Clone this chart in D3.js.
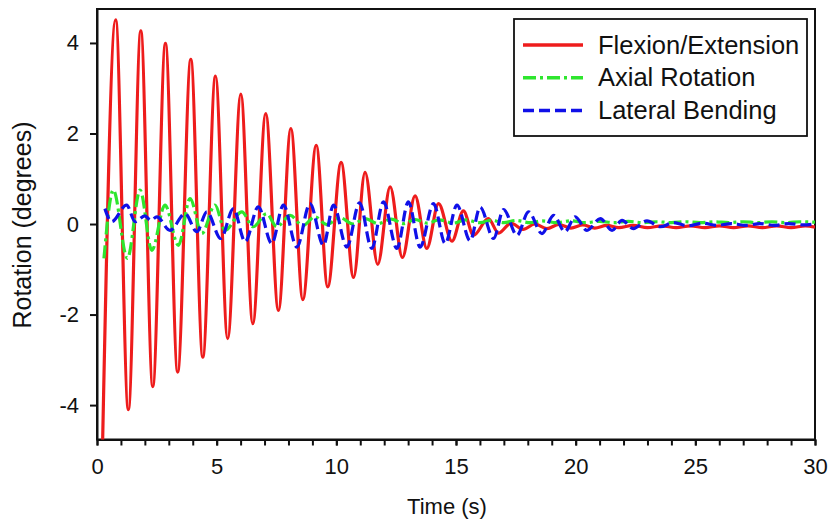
<!doctype html>
<html>
  <head>
    <meta charset="utf-8">
    <script src="https://cdn.jsdelivr.net/npm/d3@7/dist/d3.min.js"></script>
    <style>
      body { margin: 0; background: #fff; }
      text { font-family: "Liberation Sans", Arial, sans-serif; fill: #111; }
      .axis path, .axis line { stroke: #111; stroke-width: 2; }
      path.series { fill: none; stroke-width: 3.2; }
    </style>
  </head>
  <body>
    <svg width="828" height="522"></svg>
    <script>
      // extrema: [time (s), rotation (deg)]
      var flexion = [
        [0.22, -5.2], [0.78, 4.51], [1.31, -4.10], [1.83, 4.27], [2.33, -3.59], [2.86, 3.99],
        [3.37, -3.27], [3.92, 3.64], [4.42, -2.94], [4.95, 3.27], [5.46, -2.53], [6.01, 2.87],
        [6.51, -2.20], [7.05, 2.44], [7.58, -1.91], [8.10, 2.11], [8.60, -1.67], [9.16, 1.74],
        [9.64, -1.39], [10.20, 1.36], [10.72, -1.18], [11.20, 1.14], [11.73, -0.89], [12.25, 0.82],
        [12.76, -0.74], [13.29, 0.62], [13.78, -0.54], [14.27, 0.45], [14.83, -0.38], [15.31, 0.29],
        [15.73, -0.25], [16.35, 0.12], [16.78, -0.20], [17.3, 0.02], [17.8, -0.12], [18.3, 0.0],
        [18.8, -0.10], [19.3, -0.01], [19.8, -0.09], [20.3, -0.02], [20.8, -0.09], [21.3, -0.03],
        [21.8, -0.08], [22.4, -0.03], [23.0, -0.08], [23.6, -0.04], [24.2, -0.08], [24.8, -0.04],
        [25.4, -0.08], [26.0, -0.04], [26.6, -0.08], [27.2, -0.04], [27.8, -0.08], [28.4, -0.04],
        [29.0, -0.08], [29.6, -0.04], [30.0, -0.07]
      ];
      var axial = [
        [0.29, -0.76], [0.68, 0.75], [1.27, -0.76], [1.80, 0.75], [2.29, -0.58], [2.84, 0.42],
        [3.40, -0.47], [3.89, 0.56], [4.38, -0.21], [4.93, 0.42], [5.35, -0.14], [6.05, 0.27],
        [6.53, -0.06], [7.09, 0.23], [7.51, -0.06], [8.07, 0.19], [8.6, -0.04], [9.1, 0.16],
        [9.6, -0.01], [10.15, 0.14], [10.7, 0.0], [11.2, 0.12], [11.75, 0.01], [12.3, 0.11],
        [12.8, 0.01], [13.3, 0.10], [13.8, 0.02], [14.3, 0.09], [14.9, 0.02], [15.4, 0.09],
        [16.0, 0.03], [16.5, 0.08], [17.0, 0.03], [17.5, 0.08], [18.1, 0.03], [18.6, 0.07],
        [19.2, 0.03], [19.8, 0.07], [20.4, 0.03], [21.0, 0.06], [21.6, 0.03], [22.2, 0.06],
        [22.8, 0.03], [23.4, 0.05], [24.0, 0.03], [24.6, 0.05], [25.2, 0.03], [25.8, 0.05],
        [26.4, 0.03], [27.0, 0.05], [27.6, 0.03], [28.2, 0.05], [28.8, 0.03], [29.4, 0.05], [30.0, 0.04]
      ];
      var lateral = [
        [0.33, 0.34], [0.61, 0.05], [1.24, 0.42], [1.59, 0.05], [2.0, 0.18], [2.25, 0.08],
        [2.50, 0.16], [3.05, -0.14], [3.68, 0.23], [4.17, -0.17], [4.59, 0.27], [5.17, -0.32],
        [5.70, 0.34], [6.19, -0.39], [6.74, 0.38], [7.30, -0.43], [7.79, 0.42], [8.35, -0.51],
        [8.90, 0.45], [9.46, -0.47], [9.88, 0.42], [10.44, -0.51], [10.97, 0.47], [11.48, -0.54],
        [11.97, 0.49], [12.53, -0.54], [13.01, 0.49], [13.50, -0.51], [14.06, 0.45], [14.55, -0.43],
        [15.04, 0.42], [15.59, -0.37], [16.01, 0.37], [16.57, -0.32], [16.99, 0.32], [17.55, -0.25],
        [18.03, 0.27], [18.59, -0.21], [19.08, 0.19], [19.55, -0.17], [19.98, 0.16], [20.47, -0.14],
        [21.03, 0.12], [21.52, -0.14], [21.94, 0.08], [22.41, -0.10], [22.98, 0.07], [23.54, -0.06],
        [24.1, 0.03], [24.7, -0.04], [25.3, 0.02], [25.9, -0.03], [26.5, 0.01], [27.1, -0.03],
        [27.7, 0.01], [28.3, -0.03], [28.9, 0.01], [29.5, -0.02], [30.0, 0.0]
      ];

      var seriesNames = ["Flexion/Extension", "Axial Rotation", "Lateral Bending"];
      var seriesColors = ["#ee1c1c", "#2ee62e", "#1010e8"];
      var seriesDash = [null, "13 4 3 4", "11 5"];
      var xTicks = [0, 5, 10, 15, 20, 25, 30];
      var yTicks = [-4, -2, 0, 2, 4];

      drawChart();

      function drawChart() {
        var svg = d3.select("svg");
        var pLeft = 97, pRight = 815, pTop = 9, pBottom = 439.5;

        var x = d3.scaleLinear().domain([0, 30]).range([pLeft, pRight]);
        var y = d3.scaleLinear().domain([-4.76, 4.75]).range([pBottom, pTop]);

        svg.append("clipPath").attr("id", "plot")
          .append("rect")
            .attr("x", pLeft).attr("y", pTop)
            .attr("width", pRight - pLeft).attr("height", pBottom - pTop);

        // minor x ticks
        svg.append("g")
          .attr("class", "axis")
          .attr("transform", "translate(0," + pBottom + ")")
          .call(d3.axisBottom(x).ticks(30).tickSize(6).tickFormat(""))
          .call(g => g.select(".domain").remove());

        svg.append("g")
          .attr("class", "axis")
          .attr("transform", "translate(0," + pBottom + ")")
          .call(d3.axisBottom(x).tickValues(xTicks).tickSize(6).tickPadding(13).tickSizeOuter(0))
          .call(g => g.selectAll("text").style("font-size", "22px"));

        svg.append("g")
          .attr("class", "axis")
          .attr("transform", "translate(" + pLeft + ",0)")
          .call(d3.axisLeft(y).tickValues(yTicks).tickSize(7).tickPadding(11).tickSizeOuter(0)
            .tickFormat(d => String(d)))
          .call(g => g.selectAll("text").style("font-size", "22px"));

        // frame
        svg.append("rect")
          .attr("x", pLeft).attr("y", pTop)
          .attr("width", pRight - pLeft).attr("height", pBottom - pTop)
          .attr("fill", "none").attr("stroke", "#111").attr("stroke-width", 2);

        var line = d3.line()
          .x(d => x(d[0]))
          .y(d => y(d[1]))
          .curve(d3.curveMonotoneX);

        svg.append("g").attr("clip-path", "url(#plot)")
          .selectAll("path").data([flexion, axial, lateral])
          .enter()
          .append("path")
            .attr("class", "series")
            .attr("d", line)
            .attr("stroke", (d, i) => seriesColors[i])
            .attr("stroke-dasharray", (d, i) => seriesDash[i]);

        // legend
        var legend = svg.append("g");
        legend.append("rect")
          .attr("x", 514).attr("y", 19).attr("width", 293).attr("height", 117)
          .attr("fill", "#fff").attr("stroke", "#111").attr("stroke-width", 1.8);

        var rows = legend.selectAll("g.row").data(seriesNames)
          .enter()
          .append("g")
            .attr("class", "row")
            .attr("transform", (d, i) => "translate(0," + (45 + i * 32.7) + ")");
        rows.append("line")
          .attr("x1", 523).attr("x2", 583)
          .attr("stroke", (d, i) => seriesColors[i])
          .attr("stroke-width", 3.5)
          .attr("stroke-dasharray", (d, i) => seriesDash[i]);
        rows.append("text")
          .attr("x", 598).attr("y", 8.5)
          .style("font-size", "25.5px")
          .text(d => d);

        svg.append("text")
          .attr("x", 447).attr("y", 514)
          .attr("text-anchor", "middle")
          .style("font-size", "22px")
          .text("Time (s)");

        svg.append("text")
          .attr("transform", "translate(31," + (y(0) + 1) + ") rotate(-90)")
          .attr("text-anchor", "middle")
          .style("font-size", "25px")
          .text("Rotation (degrees)");
      }
    </script>
  </body>
</html>
